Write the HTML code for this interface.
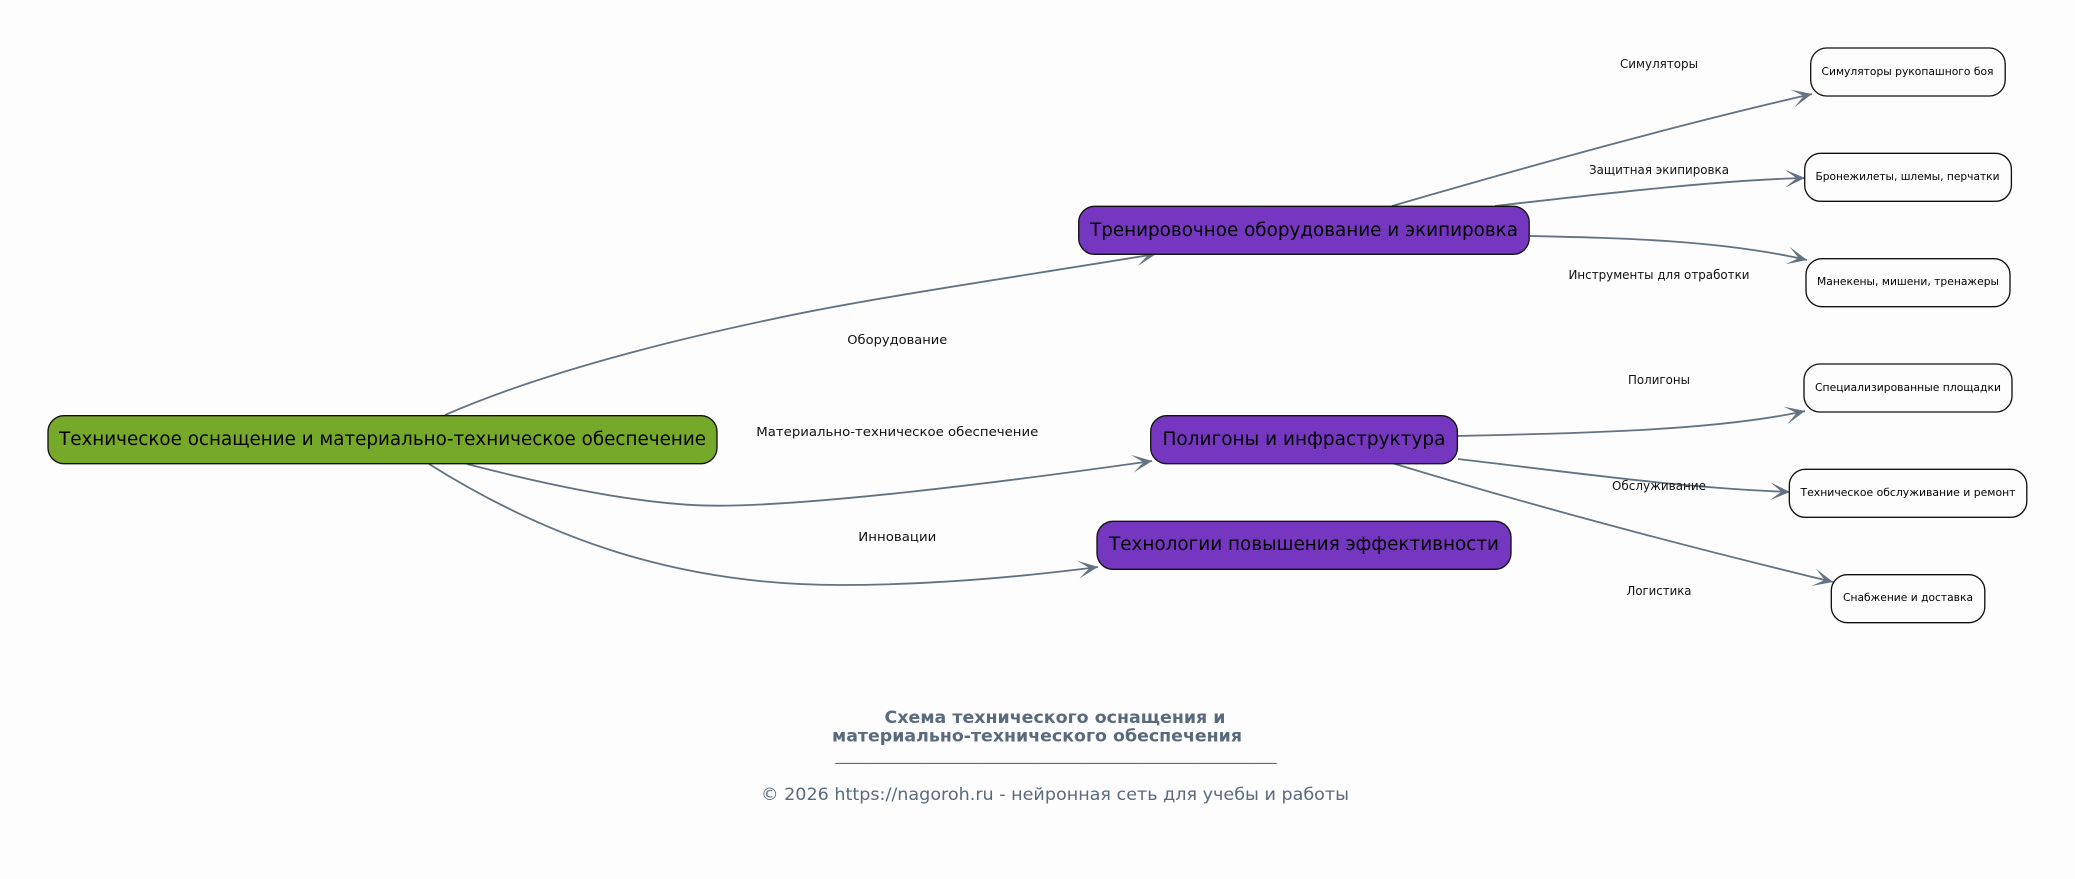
<!DOCTYPE html>
<html><head><meta charset="utf-8"><style>
html,body{margin:0;padding:0;background:#fdfdfd;width:2075px;height:879px;overflow:hidden}
svg{display:block}
text{font-family:"DejaVu Sans",sans-serif;fill:#000;text-anchor:middle}
.n{font-size:19px}.b{font-size:11px}.l{font-size:12.6px;fill:#111}
.e{fill:none;stroke:#627282;stroke-width:1.8;marker-end:url(#a)}
.f{fill:#5a6a7e}
</style></head><body>
<svg width="2075" height="879" viewBox="0 0 2075 879" xmlns="http://www.w3.org/2000/svg">
<defs><marker id="a" markerUnits="userSpaceOnUse" markerWidth="24" markerHeight="24" refX="20" refY="12" orient="auto"><path d="M20 12L0 3L11.5 12L0 21Z" fill="#627282"/></marker></defs>
<rect width="2075" height="879" fill="#fdfdfd"/>
<path class="e" d="M445 415C530 378 640 347 773 319C870 298 1010 278 1156 254"/>
<path class="e" d="M467 464C540 483 640 505.7 717 505.7C810 505.7 990 484 1152 461"/>
<path class="e" d="M429 464C550 540 680 585 840 585C930 585 1020 577 1098 567"/>
<path class="e" d="M1392 206C1530 166 1680 124 1812 94"/>
<path class="e" d="M1495 206C1600 194 1720 180 1805 178"/>
<path class="e" d="M1530 236C1620 238 1720 240 1807 260"/>
<path class="e" d="M1458 436C1590 433 1720 430 1805 411"/>
<path class="e" d="M1458 459C1570 472 1680 488 1790 492"/>
<path class="e" d="M1392 463C1530 505 1680 545 1833 582"/>
<g stroke="#111" stroke-width="1.33">
<rect x="48" y="415.7" width="669" height="48" rx="16" fill="#76a92a"/>
<rect x="1078.7" y="206.3" width="450.5" height="48" rx="16" fill="#7537c0"/>
<rect x="1150.7" y="415.7" width="306.7" height="48" rx="16" fill="#7537c0"/>
<rect x="1097" y="521.3" width="414" height="48" rx="16" fill="#7537c0"/>
<g fill="#fdfdfd">
<rect x="1810.7" y="48" width="194.5" height="48" rx="16"/>
<rect x="1804.7" y="153.3" width="206.7" height="48" rx="16"/>
<rect x="1806" y="258.7" width="204" height="48" rx="16"/>
<rect x="1804" y="364" width="208" height="48" rx="16"/>
<rect x="1789.3" y="469.3" width="237.5" height="48" rx="16"/>
<rect x="1831.3" y="574.7" width="153.5" height="48" rx="16"/>
</g></g>
<text class="n" x="382.5" y="445" textLength="647" lengthAdjust="spacingAndGlyphs">Техническое оснащение и материально-техническое обеспечение</text>
<text class="n" x="1304" y="236" textLength="428" lengthAdjust="spacingAndGlyphs">Тренировочное оборудование и экипировка</text>
<text class="n" x="1304" y="445" textLength="283" lengthAdjust="spacingAndGlyphs">Полигоны и инфраструктура</text>
<text class="n" x="1304" y="550" textLength="390" lengthAdjust="spacingAndGlyphs">Технологии повышения эффективности</text>
<text class="b" x="1907.5" y="75" textLength="172" lengthAdjust="spacingAndGlyphs">Симуляторы рукопашного боя</text>
<text class="b" x="1907.5" y="180" textLength="184" lengthAdjust="spacingAndGlyphs">Бронежилеты, шлемы, перчатки</text>
<text class="b" x="1908" y="285" textLength="182" lengthAdjust="spacingAndGlyphs">Манекены, мишени, тренажеры</text>
<text class="b" x="1908" y="391" textLength="186" lengthAdjust="spacingAndGlyphs">Специализированные площадки</text>
<text class="b" x="1908" y="496" textLength="215" lengthAdjust="spacingAndGlyphs">Техническое обслуживание и ремонт</text>
<text class="b" x="1908" y="601" textLength="130" lengthAdjust="spacingAndGlyphs">Снабжение и доставка</text>
<text class="l" x="897.3" y="344" textLength="100" lengthAdjust="spacingAndGlyphs">Оборудование</text>
<text class="l" x="897.3" y="436" textLength="282" lengthAdjust="spacingAndGlyphs">Материально-техническое обеспечение</text>
<text class="l" x="897.3" y="541" textLength="78" lengthAdjust="spacingAndGlyphs">Инновации</text>
<text class="l" x="1659" y="68" textLength="78" lengthAdjust="spacingAndGlyphs">Симуляторы</text>
<text class="l" x="1659" y="174" textLength="140" lengthAdjust="spacingAndGlyphs">Защитная экипировка</text>
<text class="l" x="1659" y="279" textLength="181" lengthAdjust="spacingAndGlyphs">Инструменты для отработки</text>
<text class="l" x="1659" y="384" textLength="62" lengthAdjust="spacingAndGlyphs">Полигоны</text>
<text class="l" x="1659" y="490" textLength="94" lengthAdjust="spacingAndGlyphs">Обслуживание</text>
<text class="l" x="1659" y="595" textLength="65" lengthAdjust="spacingAndGlyphs">Логистика</text>
<text class="f" x="1055" y="723" font-size="17" font-weight="bold" textLength="341" lengthAdjust="spacingAndGlyphs">Схема технического оснащения и</text>
<text class="f" x="1037" y="741.7" font-size="17" font-weight="bold" textLength="410" lengthAdjust="spacingAndGlyphs">материально-технического обеспечения</text>
<text class="f" x="1056" y="760" font-size="16" textLength="441" lengthAdjust="spacingAndGlyphs">_______________________________________________________</text>
<text class="f" x="1055" y="800" font-size="17" textLength="588" lengthAdjust="spacingAndGlyphs">© 2026 https://nagoroh.ru - нейронная сеть для учебы и работы</text>
</svg>
</body></html>
